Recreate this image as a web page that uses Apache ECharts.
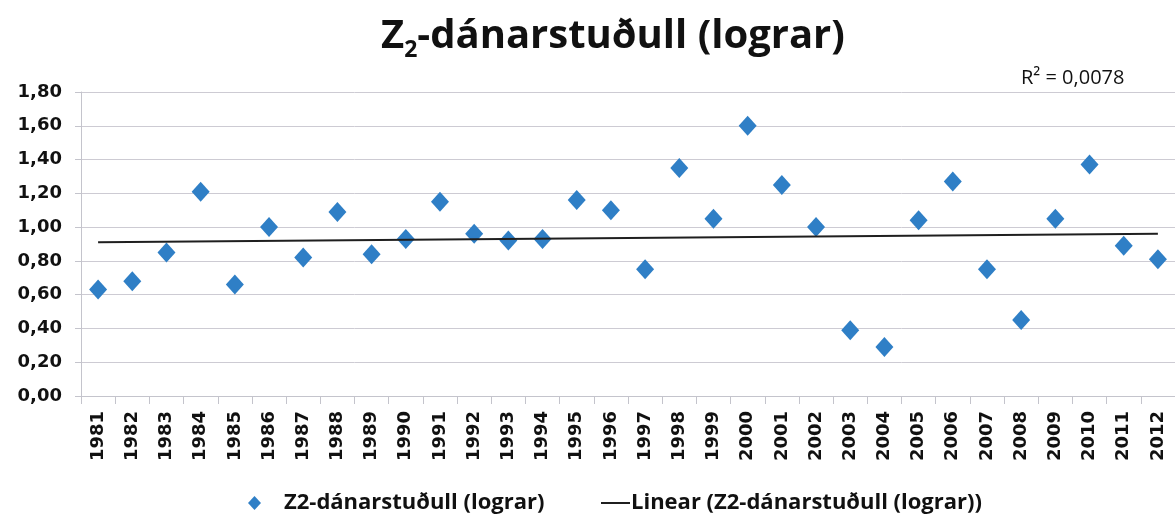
<!DOCTYPE html>
<html>
<head>
<meta charset="utf-8">
<title>Z2-dánarstuðull (lograr)</title>
<script src="https://cdn.jsdelivr.net/npm/echarts@6/dist/echarts.min.js"></script>
<style>
    html, body { margin: 0; padding: 0; background: #fff; }
    #chart { width: 1175px; height: 521px; }
</style>
</head>
<body>
<div id="chart"></div>
<script>
    // gögn lesin af myndinni
    const years = ['1981', '1982', '1983', '1984', '1985', '1986', '1987', '1988', '1989', '1990',
        '1991', '1992', '1993', '1994', '1995', '1996', '1997', '1998', '1999', '2000',
        '2001', '2002', '2003', '2004', '2005', '2006', '2007', '2008', '2009', '2010',
        '2011', '2012'];
    const z2 = [0.63, 0.68, 0.85, 1.21, 0.66, 1.00, 0.82, 1.09, 0.84, 0.93,
        1.15, 0.96, 0.92, 0.93, 1.16, 1.10, 0.75, 1.35, 1.05, 1.60,
        1.25, 1.00, 0.39, 0.29, 1.04, 1.27, 0.75, 0.45, 1.05, 1.37,
        0.89, 0.81];
    const trendYears = ['1981', '2012'];
    const trendValues = [0.91, 0.96];
    const yTicks = [0, 0.2, 0.4, 0.6, 0.8, 1.0, 1.2, 1.4, 1.6, 1.8];
    const r2Label = 'R² = 0,0078';
    const seriesName = 'Z2-dánarstuðull (lograr)';
    const trendName = 'Linear (Z2-dánarstuðull (lograr))';

    const fontText = '"Open Sans", Lato, sans-serif';
    const fontAxis = '"DejaVu Sans", Verdana, sans-serif';
    const fmt = v => v.toFixed(2).replace('.', ',');

    var myChart = echarts.init(document.getElementById('chart'));
    const option = {
        animation: false,
        title: [
            {
                text: '{a|Z}{s|2}{a|-dánarstuðull (lograr)}',
                left: 376,
                top: 8,
                textStyle: {
                    rich: {
                        a: { fontFamily: fontText, fontWeight: 'bold', fontSize: 40, color: '#111', lineHeight: 48 },
                        s: { fontFamily: fontText, fontWeight: 'bold', fontSize: 23, color: '#111', lineHeight: 48, padding: [26, 0, 0, 0] }
                    }
                }
            },
            {
                text: r2Label,
                left: 1016,
                top: 63,
                textStyle: { fontFamily: fontText, fontWeight: 'normal', fontSize: 20, color: '#111' }
            }
        ],
        legend: [
            {
                left: 243,
                top: 487,
                itemWidth: 13,
                itemHeight: 14,
                textStyle: { fontFamily: fontText, fontWeight: 'bold', fontSize: 22, color: '#111', padding: [0, 0, 0, 18] },
                data: [{ name: seriesName, icon: 'diamond', itemStyle: { color: '#2f7fc6', opacity: 1 } }]
            },
            {
                left: 596,
                top: 487,
                itemWidth: 29,
                itemHeight: 2,
                textStyle: { fontFamily: fontText, fontWeight: 'bold', fontSize: 22, color: '#111', padding: [0, 0, 0, -4] },
                data: [{ name: trendName, icon: 'rect' }]
            }
        ],
        grid: {
            left: 81,
            top: 92,
            width: 1102,
            height: 304
        },
        xAxis: {
            type: 'category',
            data: years,
            boundaryGap: true,
            axisLine: { lineStyle: { color: '#c4c4cc', width: 1 } },
            axisTick: { show: true, length: 8, interval: 0, lineStyle: { color: '#c4c4cc' } },
            axisLabel: {
                interval: 0,
                rotate: 90,
                margin: 15,
                fontFamily: fontAxis,
                fontWeight: 'bold',
                fontSize: 18,
                color: '#111'
            },
            splitLine: { show: false }
        },
        yAxis: {
            type: 'value',
            min: yTicks[0],
            max: yTicks[yTicks.length - 1],
            interval: 0.2,
            axisLine: { show: true, lineStyle: { color: '#c4c4cc' } },
            axisTick: { show: true, length: 6, lineStyle: { color: '#c4c4cc' } },
            axisLabel: {
                formatter: fmt,
                margin: 19,
                fontFamily: fontAxis,
                fontWeight: 'bold',
                fontSize: 18,
                color: '#111'
            },
            splitLine: { lineStyle: { color: '#cdcbd3', width: 1 } }
        },
        series: [
            {
                name: seriesName,
                type: 'scatter',
                symbol: 'diamond',
                symbolSize: [18, 20],
                itemStyle: { color: '#2f7fc6', opacity: 1 },
                data: z2,
                z: 3
            },
            {
                name: trendName,
                type: 'line',
                symbol: 'none',
                lineStyle: { color: '#1f1f1f', width: 2 },
                itemStyle: { color: '#1f1f1f' },
                data: trendYears.map((y, i) => [y, trendValues[i]]),
                z: 4
            }
        ]
    };
    myChart.setOption(option);
</script>
</body>
</html>
